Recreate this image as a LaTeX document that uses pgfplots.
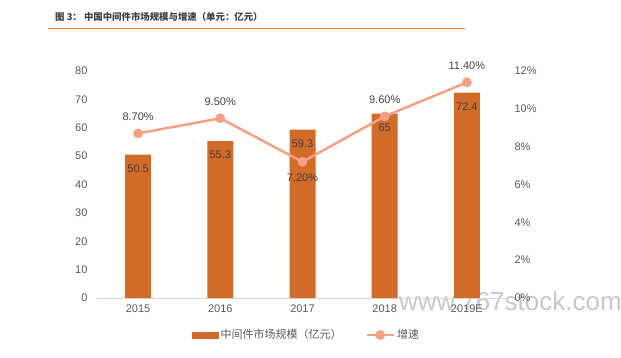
\documentclass[border=0pt]{standalone}
\usepackage{fontspec}
\setmainfont{Liberation Sans}
\newfontfamily\cjk{Noto Sans CJK SC}
\usepackage{pgfplots}
\pgfplotsset{compat=1.18}
\pgfplotsset{/pgf/number format/assume math mode=true}
\definecolor{barc}{HTML}{D26B28}
\definecolor{linec}{HTML}{F2A283}
\definecolor{tickc}{HTML}{595959}
\definecolor{labc}{HTML}{404040}
\definecolor{titc}{HTML}{3F3F3F}
\definecolor{rulec}{HTML}{F08519}
\definecolor{wmc}{HTML}{C8C8C8}
\begin{document}
\begin{tikzpicture}[x=1pt,y=1pt]
\path[use as bounding box] (0,0) rectangle (621,-358);
\node[anchor=west, font=\cjk\bfseries\fontsize{9.4}{10}\selectfont, text=titc, inner sep=0] at (55,-17) {图 3： 中国中间件市场规模与增速（单元：亿元）};
\draw[rulec, line width=1pt] (48,-28.5) -- (465,-28.5);
\node[anchor=west, text=wmc, font=\fontsize{26}{28}\selectfont, inner sep=0] at (399,-301) {www.767stock.com};
\begin{axis}[at={(97pt,-298pt)}, anchor=south west,
  scale only axis, width=411pt, height=227pt,
  xmin=-0.5, xmax=4.5, ymin=0, ymax=80,
  xtick={0,1,2,3,4}, xticklabels={2015,2016,2017,2018,2019E},
  ytick={0,10,...,80},
  axis x line*=bottom, axis y line*=left,
  x axis line style={draw=black!15, line width=1pt, -},
  y axis line style={draw=none},
  major tick length=0pt,
  tick label style={font=\fontsize{11}{12}\selectfont, text=tickc},
  yticklabel style={xshift=-6pt},
  xticklabel style={yshift=-3pt},
  clip=false,
]
\addplot[ybar, bar width=26pt, fill=barc, draw=none,
  nodes near coords,
  every node near coord/.append style={anchor=center, yshift=-14pt, text=labc, font=\fontsize{11}{12}\selectfont}]
  coordinates {(0,50.5) (1,55.3) (2,59.3) (3,65) (4,72.4)};
\end{axis}
\begin{axis}[at={(97pt,-298pt)}, anchor=south west,
  scale only axis, width=411pt, height=227pt,
  xmin=-0.5, xmax=4.5, ymin=0, ymax=12,
  ytick={0,2,...,12},
  yticklabel={\pgfmathprintnumber{\tick}\%},
  axis y line*=right, axis x line=none,
  y axis line style={draw=none},
  major tick length=0pt,
  tick label style={font=\fontsize{11}{12}\selectfont, text=tickc},
  yticklabel style={xshift=3pt},
  clip=false,
  legend columns=2,
  legend style={at={(0.51,-0.163)}, anchor=center, draw=none, fill=none,
    font=\cjk\fontsize{11}{12}\selectfont, text=tickc,
    /tikz/every even column/.append style={column sep=22pt}},
]
\addlegendimage{legend image code/.code={\fill[barc] (0pt,-3pt) rectangle (26pt,3pt);}}
\addlegendentry{中间件市场规模（亿元）}
\addplot[linec, line width=2.5pt, mark=*, mark size=3.6pt, mark options={fill=linec, draw=linec},
  legend image code/.code={\draw[linec, line width=2.5pt] (0pt,0pt) -- (27pt,0pt); \fill[linec] (13.5pt,0pt) circle (3.6pt);}]
  coordinates {(0,8.7) (1,9.5) (2,7.2) (3,9.6) (4,11.4)};
\addlegendentry{增速}
\addplot[draw=none, mark=none, forget plot,
  nodes near coords={\pgfmathprintnumber[fixed,fixed zerofill,precision=2]{\pgfplotspointmeta}\%},
  every node near coord/.append style={anchor=center, yshift=17pt, text=labc, font=\fontsize{11}{12}\selectfont}]
  coordinates {(0,8.7) (1,9.5) (3,9.6) (4,11.4)};
\addplot[draw=none, mark=none, forget plot,
  nodes near coords={\pgfmathprintnumber[fixed,fixed zerofill,precision=2]{\pgfplotspointmeta}\%},
  every node near coord/.append style={anchor=center, yshift=-16pt, text=labc, font=\fontsize{11}{12}\selectfont}]
  coordinates {(2,7.2)};
\end{axis}
\end{tikzpicture}
\end{document}
